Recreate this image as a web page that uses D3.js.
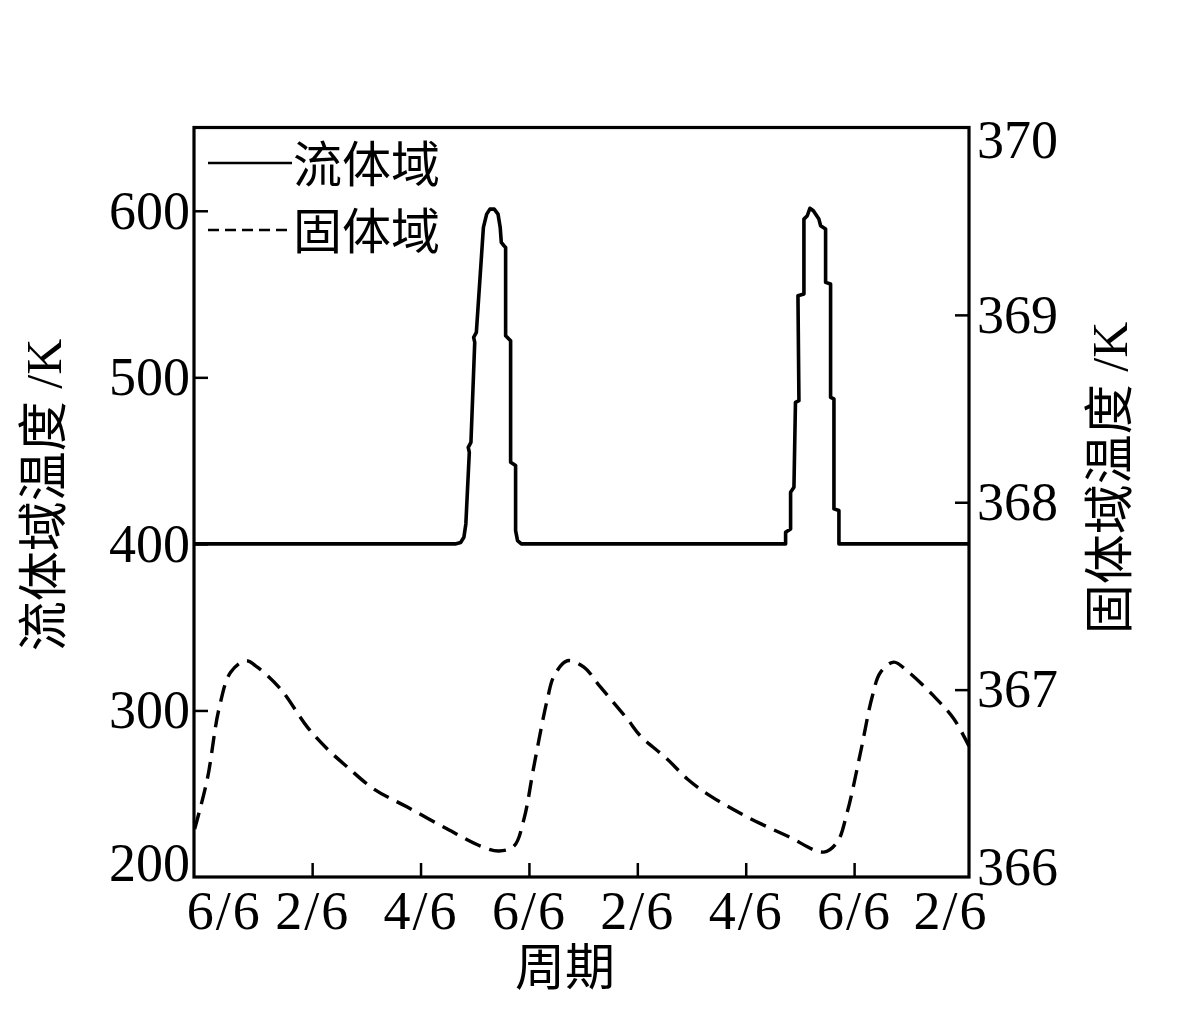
<!DOCTYPE html>
<html>
<head>
<meta charset="utf-8">
<script src="https://cdn.jsdelivr.net/npm/d3@7"></script>
<style>
  html, body { margin: 0; padding: 0; background: #fff; }
  svg { display: block; }
</style>
</head>
<body>
<svg id="chart" width="1200" height="1035"></svg>
<script>
// ---------- data ----------
// x in "tick units" (each tick = 2/6 of a period)
const xTickValues = [0, 1, 2, 3, 4, 5, 6, 7];
const xTickLabels = ["6/6", "2/6", "4/6", "6/6", "2/6", "4/6", "6/6", "2/6"];
const leftTickValues = [200, 300, 400, 500, 600];
const rightTickValues = [366, 367, 368, 369, 370];

// fluid-domain temperature (left axis, K)
const fluidX = [-0.09, 2.32, 2.37, 2.40, 2.418, 2.45, 2.44, 2.465, 2.50, 2.49, 2.515, 2.58, 2.61, 2.64, 2.68, 2.715, 2.735, 2.745, 2.77, 2.785, 2.785, 2.831, 2.831, 2.877, 2.877, 2.895, 2.93,
  5.368, 5.368, 5.414, 5.414, 5.445, 5.459, 5.491, 5.482, 5.537, 5.537, 5.568, 5.592, 5.624, 5.675, 5.691, 5.737, 5.737, 5.783, 5.783, 5.814, 5.814, 5.86, 5.86, 7.06];
const fluidT = [400, 400, 400.8, 404, 412, 455, 458, 461, 521, 524, 527, 590, 598, 601, 601, 598, 590, 581, 579, 578, 525, 522, 449, 447, 408, 402, 400,
  400, 407, 409, 431, 434, 485, 486, 549, 550, 595, 597, 601.5, 600, 595, 591, 589, 557, 556, 488, 487, 421, 420, 400, 400];

// solid-domain temperature (right axis, K)
const solidX = [-0.084, 0.033, 0.140, 0.248, 0.387, 0.494, 0.709, 0.956, 1.140, 1.325, 1.570, 1.878, 2.247, 2.554, 2.723, 2.862, 2.954, 3.046, 3.170, 3.231, 3.354, 3.507, 3.661, 3.908, 4.030, 4.277, 4.461, 4.676, 5.015, 5.384, 5.721, 5.845, 5.937, 6.060, 6.168, 6.244, 6.367, 6.491, 6.736, 6.921, 7.059];
const solidT = [366.256, 366.523, 366.896, 367.093, 367.154, 367.120, 367.003, 366.800, 366.683, 366.587, 366.469, 366.373, 366.256, 366.165, 366.139, 366.165, 366.309, 366.592, 366.949, 367.072, 367.154, 367.120, 367.013, 366.843, 366.752, 366.629, 366.523, 366.432, 366.320, 366.219, 366.133, 366.187, 366.347, 366.667, 366.965, 367.093, 367.147, 367.099, 366.965, 366.843, 366.699];

const seriesNames = ["流体域", "固体域"];
const yLeftTitle = "流体域温度 /K";
const yRightTitle = "固体域温度 /K";
const xTitle = "周期";

// ---------- layout ----------
const W = 1200, H = 1035;
const m = { left: 194, right: 231, top: 127.5, bottom: 158 };
const iw = W - m.left - m.right, ih = H - m.top - m.bottom;
const latin = "'Liberation Serif', 'Times New Roman', 'Noto Sans CJK SC', serif";
const cjk = "'Liberation Serif', 'Noto Sans CJK SC', serif";

const svg = d3.select("#chart");
const g = svg.append("g").attr("transform", `translate(${m.left},${m.top})`);

const x = d3.scaleLinear().domain([-0.09, 7.06]).range([0, iw]);
const yL = d3.scaleLinear().domain([200, 650]).range([ih, 0]);
const yR = d3.scaleLinear().domain([366, 370]).range([ih, 0]);

// ---------- x axis ----------
g.append("g").attr("transform", `translate(0,${ih})`)
  .call(d3.axisBottom(x).tickValues(xTickValues.slice(1, 7)).tickSize(-14).tickFormat(""));
const xLab = g.append("g").attr("transform", `translate(0,${ih})`)
  .call(d3.axisBottom(x).tickValues(xTickValues).tickSize(0).tickPadding(14)
    .tickFormat((d, i) => xTickLabels[i]));
xLab.selectAll("text")
  .attr("dx", (d, i) => i === 0 ? 20 : (i === xTickValues.length - 1 ? -12 : 0));

// ---------- left axis ----------
g.append("g")
  .call(d3.axisLeft(yL).tickValues(leftTickValues.slice(1)).tickSize(-14).tickFormat(""));
const yLLab = g.append("g")
  .call(d3.axisLeft(yL).tickValues(leftTickValues).tickSize(0).tickPadding(4).tickFormat(d3.format("d")));
yLLab.selectAll("text")
  .attr("transform", d => d === 200 ? "translate(0,-14)" : null);

// ---------- right axis ----------
g.append("g").attr("transform", `translate(${iw},0)`)
  .call(d3.axisRight(yR).tickValues(rightTickValues.slice(1, 4)).tickSize(-14).tickFormat(""));
const yRLab = g.append("g").attr("transform", `translate(${iw},0)`)
  .call(d3.axisRight(yR).tickValues(rightTickValues).tickSize(0).tickPadding(8).tickFormat(d3.format("d")));
yRLab.selectAll("text")
  .attr("transform", d => d === 370 ? "translate(0,13)" : (d === 366 ? "translate(0,-10)" : null));

// styling axes
g.selectAll(".domain").remove();
g.selectAll(".tick line").attr("stroke", "#000").attr("stroke-width", 2.5);
g.selectAll(".tick text").attr("fill", "#000").style("font-family", latin).style("font-size", "54px");
xLab.selectAll("text").style("letter-spacing", "2px");

// ---------- lines ----------
const fluidData = fluidX.map((v, i) => [v, fluidT[i]]);
const solidData = solidX.map((v, i) => [v, solidT[i]]);

g.append("path").datum(fluidData)
  .attr("fill", "none").attr("stroke", "#000").attr("stroke-width", 3.6)
  .attr("stroke-linejoin", "round")
  .attr("d", d3.line().x(d => x(d[0])).y(d => yL(d[1])).curve(d3.curveLinear));

g.append("path").datum(solidData)
  .attr("fill", "none").attr("stroke", "#000").attr("stroke-width", 3.4)
  .attr("stroke-dasharray", "17,9")
  .attr("d", d3.line().x(d => x(d[0])).y(d => yR(d[1])).curve(d3.curveCatmullRom.alpha(0.5)));

// ---------- frame ----------
g.append("rect").attr("x", 0).attr("y", 0).attr("width", iw).attr("height", ih)
  .attr("fill", "none").attr("stroke", "#000").attr("stroke-width", 3.2);

// ---------- legend ----------
const leg = g.append("g");
const legY = [163 - m.top, 230 - m.top];
seriesNames.forEach((name, i) => {
  leg.append("line").attr("x1", 208 - m.left).attr("x2", 292 - m.left)
    .attr("y1", legY[i]).attr("y2", legY[i])
    .attr("stroke", "#000").attr("stroke-width", 2.6)
    .attr("stroke-dasharray", i === 1 ? "11,6" : null);
  leg.append("text").attr("x", 293 - m.left).attr("y", legY[i] + 2)
    .attr("dominant-baseline", "central")
    .style("font-family", cjk).style("font-size", "49px").text(name);
});

// ---------- titles ----------
svg.append("text").attr("transform", "translate(44,495) rotate(-90)")
  .attr("text-anchor", "middle").attr("dominant-baseline", "central")
  .style("font-family", cjk).style("font-size", "50px").text(yLeftTitle);
svg.append("text").attr("transform", "translate(1110,478) rotate(-90)")
  .attr("text-anchor", "middle").attr("dominant-baseline", "central")
  .style("font-family", cjk).style("font-size", "50px").text(yRightTitle);
svg.append("text").attr("x", 565).attr("y", 968)
  .attr("text-anchor", "middle").attr("dominant-baseline", "central")
  .style("font-family", cjk).style("font-size", "50px").text(xTitle);
</script>
</body>
</html>
